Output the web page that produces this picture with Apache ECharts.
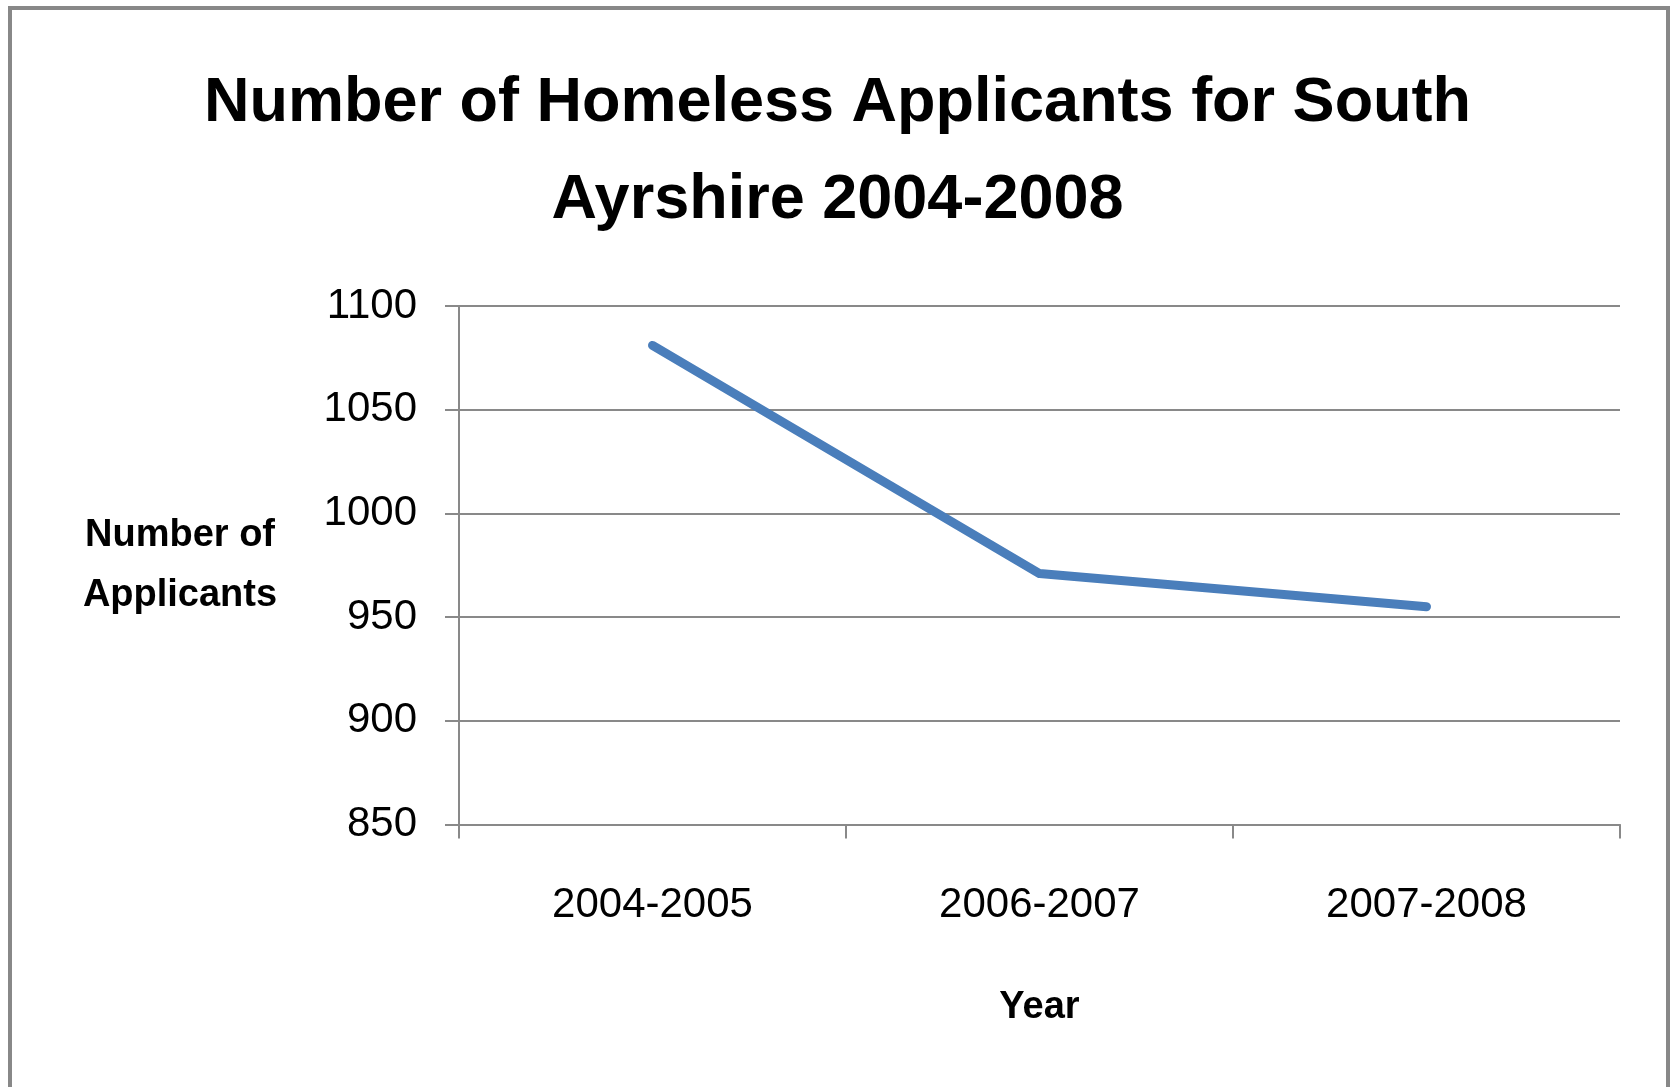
<!DOCTYPE html>
<html>
<head>
<meta charset="utf-8">
<script src="https://cdn.jsdelivr.net/npm/echarts@6/dist/echarts.min.js"></script>
<style>
html,body{margin:0;padding:0;background:#fff;}
#chart{width:1675px;height:1087px;}
</style>
</head>
<body>
<div id="chart"></div>
<script>
var titleText = 'Number of Homeless Applicants for South\nAyrshire 2004-2008';
var categories = ['2004-2005', '2006-2007', '2007-2008'];
var applicants = [1081, 971, 955];
var yAxisName = 'Number of\nApplicants';
var xAxisName = 'Year';

var chart = echarts.init(document.getElementById('chart'), null, {renderer: 'canvas'});
var font = '"Liberation Sans", Arial, sans-serif';
var gray = '#898989';
chart.setOption({
  backgroundColor: '#ffffff',
  animation: false,
  graphic: [{
    type: 'rect',
    shape: {x: 10, y: 8, width: 1658, height: 1200},
    style: {fill: 'none', stroke: '#888888', lineWidth: 4},
    silent: true
  }],
  title: {
    text: titleText,
    left: 'center',
    top: 55,
    padding: 0,
    textStyle: {
      fontFamily: font,
      fontWeight: 'bold',
      fontSize: 63,
      lineHeight: 97,
      color: '#000'
    }
  },
  grid: {left: 459, right: 55, top: 306, bottom: 262.5, containLabel: false},
  xAxis: {
    type: 'category',
    data: categories,
    boundaryGap: true,
    name: xAxisName,
    nameLocation: 'middle',
    nameGap: 183,
    nameTextStyle: {fontFamily: font, fontWeight: 'bold', fontSize: 38, color: '#000', verticalAlign: 'middle'},
    axisLine: {show: true, lineStyle: {color: gray, width: 2}},
    axisTick: {show: true, length: 14, inside: false, lineStyle: {color: gray, width: 2}},
    axisLabel: {fontFamily: font, fontSize: 42, color: '#000', margin: 81, verticalAlign: 'middle'},
    splitLine: {show: false}
  },
  yAxis: {
    type: 'value',
    min: 850,
    max: 1100,
    interval: 50,
    name: yAxisName,
    nameLocation: 'middle',
    nameRotate: 0,
    nameGap: 279,
    nameTextStyle: {fontFamily: font, fontWeight: 'bold', fontSize: 38, lineHeight: 60, color: '#000', align: 'center', verticalAlign: 'middle', padding: [8, 0, 0, 0]},
    axisLine: {show: true, lineStyle: {color: gray, width: 2}},
    axisTick: {show: true, length: 14, inside: false, lineStyle: {color: gray, width: 2}},
    axisLabel: {fontFamily: font, fontSize: 42, color: '#000', margin: 42, formatter: function (v) { return String(v); }},
    splitLine: {show: true, lineStyle: {color: gray, width: 2}}
  },
  series: [{
    type: 'line',
    data: applicants,
    showSymbol: false,
    symbol: 'none',
    lineStyle: {color: '#4a7ebb', width: 9, cap: 'round', join: 'round'},
    itemStyle: {color: '#4a7ebb'}
  }]
});
</script>
</body>
</html>
